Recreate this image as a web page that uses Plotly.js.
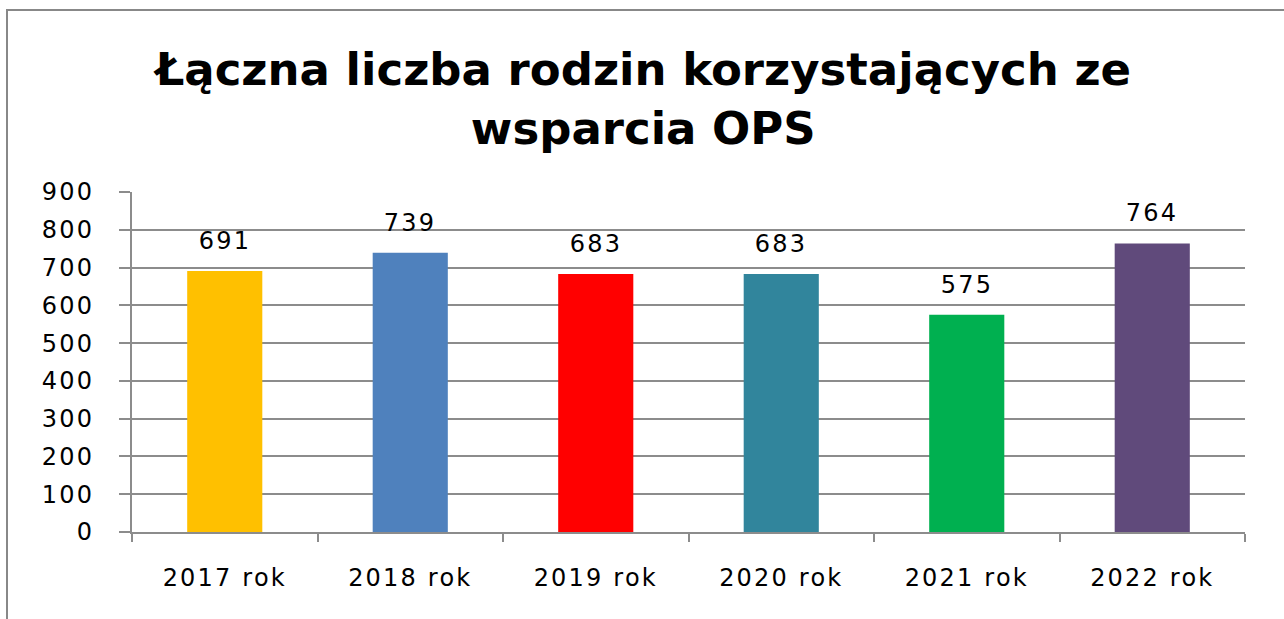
<!DOCTYPE html>
<html>
<head>
<meta charset="utf-8">
<script src="https://cdn.plot.ly/plotly-3.0.1.min.js"></script>
<style>
html,body{margin:0;padding:0;background:#fff;overflow:hidden;}
#frame{position:absolute;left:6px;top:9px;width:1300px;height:700px;border:2px solid #888888;box-sizing:border-box;}
#chart{position:absolute;left:0;top:0;width:1284px;height:619px;}
#chart .xtick text, #chart .ytick text, #chart .annotation-text{letter-spacing:2.2px;}
</style>
</head>
<body>
<div id="frame"></div>
<div id="chart"></div>
<script>
const categories = ["2017 rok","2018 rok","2019 rok","2020 rok","2021 rok","2022 rok"];
const values = [691, 739, 683, 683, 575, 764];
const barColors = ["#FFC000","#4F81BD","#FF0000","#31859C","#00B050","#604A7B"];
const yTicks = [0,100,200,300,400,500,600,700,800,900];
const titleText = "Łączna liczba rodzin korzystających ze<br>wsparcia OPS";

const font = "DejaVu Sans, Verdana, sans-serif";
const grid = "#8c8c8c";

const trace = {
  type: "bar",
  x: categories,
  y: values,
  marker: {color: barColors, line: {width: 0}},
  width: 0.405,
  hoverinfo: "none"
};

const annotations = categories.map((c, i) => ({
  x: c, y: values[i], xref: "x", yref: "y",
  text: String(values[i]),
  showarrow: false,
  yanchor: "bottom",
  yshift: 14,
  font: {family: font, size: 24, color: "#000"}
}));

const layout = {
  width: 1284, height: 619,
  paper_bgcolor: "rgba(0,0,0,0)",
  plot_bgcolor: "rgba(0,0,0,0)",
  margin: {l: 132, r: 39, t: 192, b: 87},
  showlegend: false,
  title: {
    text: titleText,
    font: {family: font, size: 45, color: "#000", weight: "bold"},
    x: 0.501, xanchor: "center", xref: "container",
    y: 0.862, yanchor: "middle", yref: "container"
  },
  xaxis: {
    type: "category",
    showgrid: false,
    showline: true, linecolor: grid, linewidth: 2,
    ticks: "outside", tickson: "boundaries", ticklen: 8, tickwidth: 2, tickcolor: grid,
    ticklabelstandoff: 23,
    tickfont: {family: font, size: 24, color: "#000"},
    fixedrange: true
  },
  yaxis: {
    range: [0, 900],
    tickvals: yTicks,
    showgrid: true, gridcolor: grid, gridwidth: 2,
    zeroline: false,
    showline: true, linecolor: grid, linewidth: 2,
    ticks: "outside", ticklen: 11, tickwidth: 2, tickcolor: grid,
    ticklabelstandoff: 20,
    tickfont: {family: font, size: 24, color: "#000"},
    fixedrange: true
  },
  annotations: annotations,
  bargap: 0.595
};

Plotly.newPlot("chart", [trace], layout, {displayModeBar: false, staticPlot: true});
</script>
</body>
</html>
